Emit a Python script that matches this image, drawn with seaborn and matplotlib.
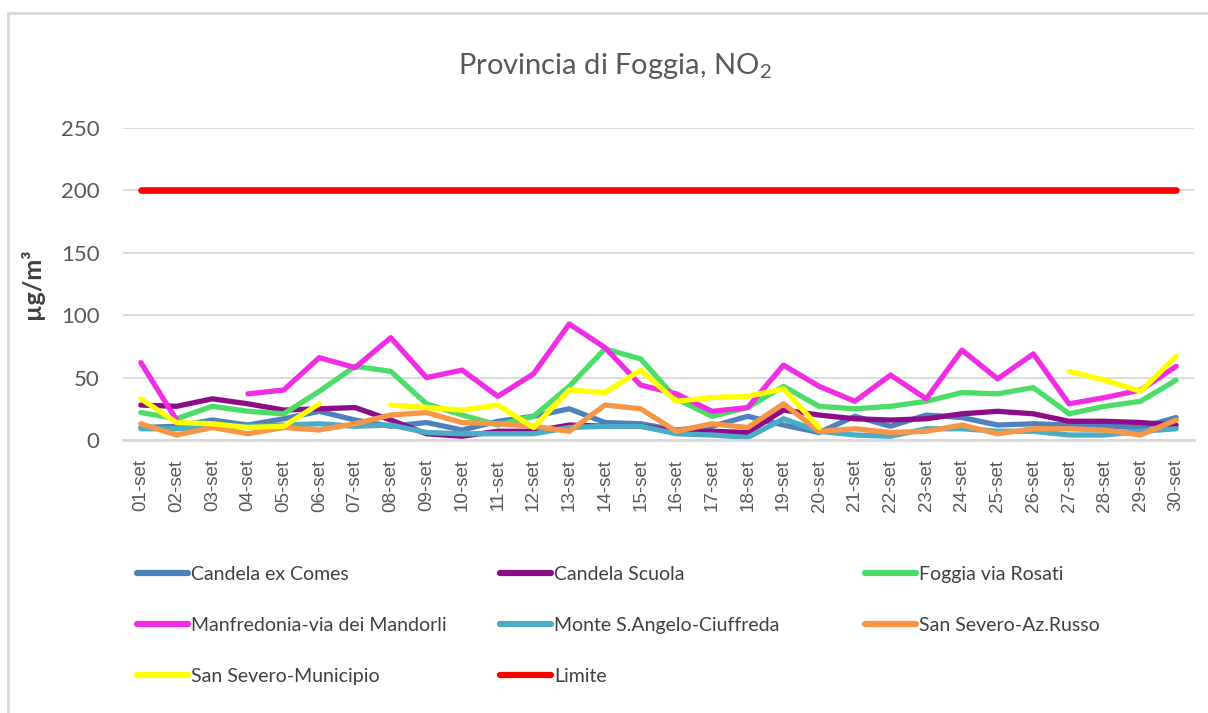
import numpy as np
import pandas as pd
import matplotlib
matplotlib.use("Agg")
import matplotlib.pyplot as plt
from matplotlib.lines import Line2D
import seaborn as sns

nan = np.nan

days = ["01-set", "02-set", "03-set", "04-set", "05-set", "06-set", "07-set", "08-set",
        "09-set", "10-set", "11-set", "12-set", "13-set", "14-set", "15-set", "16-set",
        "17-set", "18-set", "19-set", "20-set", "21-set", "22-set", "23-set", "24-set",
        "25-set", "26-set", "27-set", "28-set", "29-set", "30-set"]

candela_ex_comes = [10, 11, 16, 12, 17, 23, 16, 11, 14, 8, 15, 19, 25, 14, 13, 8, 11, 19, 12, 6,
                    19, 11, 20, 18, 12, 13, 12, 11, 10, 18]
candela_scuola = [28, 27, 33, 29, 24, 25, 26, 16, 5, 3, 7, 7, 12, 11, 11, 7, 7, 6, 24, 20,
                  17, 16, 17, 21, 23, 21, 15, 15, 14, 12]
foggia_rosati = [22, 17, 27, 23, 21, 39, 59, 55, 29, 20, 12, 19, 43, 73, 65, 33, 19, 26, 43, 27,
                 25, 27, 31, 38, 37, 42, 21, 27, 31, 48]
manfredonia = [62, 16, nan, 37, 40, 66, 58, 82, 50, 56, 35, 53, 93, 74, 44, 37, 23, 26, 60, 43,
               31, 52, 33, 72, 49, 69, 29, 34, 40, 59]
monte_sangelo = [9, 9, 11, 11, 12, 13, 11, 12, 6, 5, 5, 5, 10, 11, 11, 5, 4, 2, 17, 7,
                 4, 3, 9, 9, 7, 7, 4, 4, 7, 9]
sansevero_russo = [13, 4, 10, 5, 10, 8, 13, 20, 22, 14, 13, 11, 7, 28, 25, 7, 13, 10, 29, 7,
                   9, 6, 7, 12, 5, 9, 9, 8, 4, 16]
sansevero_municipio = [33, 14, 13, 10, 11, 29, nan, 28, 26, 24, 28, 10, 40, 38, 56, 31, 34, 35, 41, 10,
                       nan, nan, nan, nan, nan, nan, 55, 48, 39, 67]
limite = [200, 200, 200, 200, 200, 200, 200, 200, 200, 200, 200, 200, 200, 200, 200,
          200, 200, 200, 200, 200, 200, 200, 200, 200, 200, 200, 200, 200, 200, 200]

series_names = ["Candela ex Comes", "Candela Scuola", "Foggia via Rosati",
                "Manfredonia-via dei Mandorli", "Monte S.Angelo-Ciuffreda",
                "San Severo-Az.Russo", "San Severo-Municipio", "Limite"]
series_values = [candela_ex_comes, candela_scuola, foggia_rosati, manfredonia,
                 monte_sangelo, sansevero_russo, sansevero_municipio, limite]
colors = ["#4f81bd", "#8e0c8a", "#4cdc68", "#f02ce4", "#4bacc6", "#f79646", "#ffff00", "#ff0000"]

# long-form data, split into contiguous segments so gaps stay open
rows = []
seg = 0
for name, vals in zip(series_names, series_values):
    prev_nan = True
    for i, v in enumerate(vals):
        if np.isnan(v):
            prev_nan = True
            continue
        if prev_nan:
            seg += 1
            prev_nan = False
        rows.append({"pos": i, "val": v, "series": name, "seg": seg})
df = pd.DataFrame(rows)

sns.set_theme(style="white")
plt.rcParams["font.family"] = ["Lato", "DejaVu Sans"]
plt.rcParams["mathtext.fontset"] = "custom"
plt.rcParams["mathtext.rm"] = "Lato"

fig = plt.figure(figsize=(12.08, 7.13), dpi=100)
ax = fig.add_axes([123 / 1208, 1 - 440 / 713, (1194 - 123) / 1208, (440 - 128) / 713])

palette = dict(zip(series_names, colors))
main = df[df["series"] != "Limite"]
sns.lineplot(data=main, x="pos", y="val", hue="series", units="seg", estimator=None,
             palette=palette, linewidth=3.8, ax=ax, legend=False, sort=True)
lim = df[df["series"] == "Limite"]
sns.lineplot(data=lim, x="pos", y="val", color=palette["Limite"], linewidth=4.8,
             ax=ax, legend=False, estimator=None)

ax.set_xlim(-0.5, 29.5)
ax.set_ylim(0, 250)
ax.set_yticks([0, 50, 100, 150, 200, 250])
ax.yaxis.grid(True, color="#d9d9d9", linewidth=1.3)
ax.set_axisbelow(True)
for s in ["top", "right", "left"]:
    ax.spines[s].set_visible(False)
ax.spines["bottom"].set_color("#d9d9d9")
ax.spines["bottom"].set_linewidth(2)

ax.set_xticks(range(30))
ax.set_xticklabels(days, rotation=90, fontsize=13.5, color="#595959",
                   family=["Liberation Sans", "DejaVu Sans"])
ax.set_xticks(np.arange(-0.5, 30, 1), minor=True)
ax.tick_params(axis="x", which="major", length=0, pad=14)
ax.tick_params(axis="x", which="minor", length=7, width=1.3, color="#d9d9d9", direction="out")
ax.tick_params(axis="y", length=0, pad=17, labelsize=16, labelcolor="#595959")
ax.set_xlabel("")
ax.set_ylabel("µg/m³", fontsize=18, fontweight="bold", color="#404040", labelpad=12)

fig.text(0.509, 0.907, "Provincia di Foggia, NO$_2$", ha="center", va="center",
         fontsize=21, color="#595959")

# legend: three columns placed like the reference
handles = [Line2D([0], [0], color=c, linewidth=4.5) for c in colors]
cols = [[0, 3, 6], [1, 4, 7], [2, 5]]
xs = [137 / 1208, 500 / 1208, 865 / 1208]
for col, x in zip(cols, xs):
    leg = fig.legend([handles[i] for i in col], [series_names[i] for i in col],
                     loc="upper left", bbox_to_anchor=(x, 1 - 566 / 713), frameon=False,
                     fontsize=14, handlelength=2.6, handletextpad=0.2, labelspacing=1.75,
                     borderaxespad=0, borderpad=0)
    for t in leg.get_texts():
        t.set_color("#404040")

# chart border
fig.add_artist(Line2D([8 / 1208, 8 / 1208], [0, 1 - 13 / 713], transform=fig.transFigure,
                      color="#d9d9d9", linewidth=2))
fig.add_artist(Line2D([8 / 1208, 1], [1 - 13 / 713, 1 - 13 / 713], transform=fig.transFigure,
                      color="#d9d9d9", linewidth=2))

fig.savefig("out.png", dpi=100)
